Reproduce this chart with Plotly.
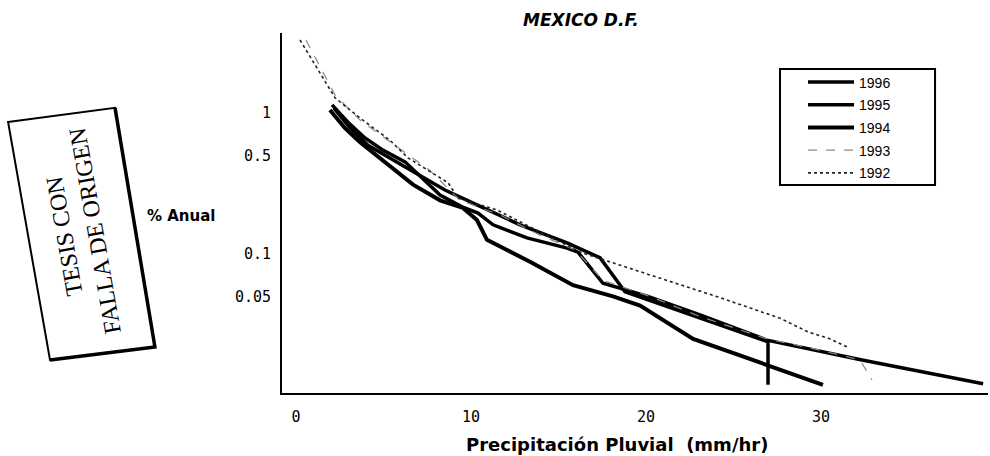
import plotly.graph_objects as go

# Rainfall intensity (mm/hr) vs. annual exceedance percentage, Mexico D.F.
years = ["1996", "1995", "1994", "1993", "1992"]

x_1996 = [2.06, 2.97, 3.94, 4.91, 6.23, 8.23, 9.49, 10.4, 11.26, 13.2, 15.49, 16.11, 17.54, 20.11, 23.09, 26.91, 32.34, 39.26]
y_1996 = [1.14, 0.86, 0.665, 0.55, 0.45, 0.262, 0.216, 0.195, 0.161, 0.130, 0.110, 0.103, 0.062, 0.050, 0.037, 0.0245, 0.0177, 0.0120]

x_1995 = [2.17, 3.09, 4.11, 5.37, 7.09, 8.51, 10.34, 12.8, 15.49, 17.37, 18.8, 23.09, 26.97, 26.97]
y_1995 = [1.08, 0.78, 0.59, 0.48, 0.36, 0.284, 0.223, 0.161, 0.120, 0.094, 0.054, 0.035, 0.0238, 0.0118]

x_1994 = [1.94, 2.8, 3.66, 4.8, 6.69, 8.23, 9.54, 10.34, 10.91, 13.37, 15.83, 18.11, 19.66, 22.69, 26.51, 30.11]
y_1994 = [1.05, 0.78, 0.62, 0.48, 0.31, 0.24, 0.212, 0.174, 0.126, 0.088, 0.060, 0.050, 0.043, 0.025, 0.0171, 0.0118]

x_1993 = [0.57, 1.49, 2.23, 3.66, 5.66, 7.66, 9.37, 11.66, 13.94, 15.94, 17.54, 20.23, 23.09, 26.91, 29.94, 32.23, 32.91]
y_1993 = [3.29, 2.02, 1.34, 0.89, 0.59, 0.39, 0.24, 0.189, 0.136, 0.107, 0.065, 0.050, 0.036, 0.025, 0.0208, 0.0177, 0.0128]

x_1992 = [0.23, 1.26, 2.23, 3.66, 5.37, 6.4, 8.69, 9.26, 11.49, 13.94, 16.34, 20.23, 24.23, 27.66, 29.26, 30.51, 31.49]
y_1992 = [3.29, 2.02, 1.28, 0.92, 0.64, 0.48, 0.32, 0.249, 0.205, 0.143, 0.102, 0.071, 0.049, 0.035, 0.028, 0.025, 0.0219]

x_ticks = [0, 10, 20, 30]
y_ticks = [0.05, 0.1, 0.5, 1]
y_tick_text = ["0.05", "0.1", "0.5", "1"]

series = {
    "1996": (x_1996, y_1996, dict(color="black", width=3.5)),
    "1995": (x_1995, y_1995, dict(color="black", width=3.5)),
    "1994": (x_1994, y_1994, dict(color="black", width=4)),
    "1993": (x_1993, y_1993, dict(color="#8a8a8a", width=1.2, dash="dash")),
    "1992": (x_1992, y_1992, dict(color="#222222", width=1.6, dash="dot")),
}

fig = go.Figure()
for yr in years:
    xs, ys, line = series[yr]
    fig.add_trace(go.Scatter(x=xs, y=ys, mode="lines", name=yr, line=line,
                             legendgroup=yr))

mono = "DejaVu Sans Mono"

fig.update_layout(
    width=990, height=456,
    margin=dict(l=282, r=2, t=33, b=63),
    paper_bgcolor="white", plot_bgcolor="white",
    showlegend=True,
    legend=dict(
        x=0.738, y=0.907, xanchor="left", yanchor="top",
        bgcolor="rgba(0,0,0,0)", borderwidth=0,
        font=dict(family="Liberation Sans", size=14, color="black"),
        traceorder="grouped", tracegroupgap=1.5, itemwidth=46,
    ),
    xaxis=dict(
        range=[-0.8, 39.54], tickvals=x_ticks, showgrid=False, zeroline=False,
        showline=True, linecolor="black", linewidth=2, ticks="",
        ticklabelstandoff=9,
        tickfont=dict(family=mono, size=15, color="black"),
    ),
    yaxis=dict(
        type="log", range=[-1.986, 0.567], tickvals=y_ticks, ticktext=y_tick_text,
        showgrid=False, zeroline=False, showline=True, linecolor="black",
        linewidth=2, ticks="", ticklabelstandoff=6,
        tickfont=dict(family=mono, size=15, color="black"),
    ),
)

# Legend frame
fig.add_shape(type="rect", xref="paper", yref="paper",
              x0=0.7054, x1=0.925, y0=0.578, y1=0.9,
              line=dict(color="black", width=2), layer="below")

# Titles
fig.add_annotation(text="<b><i>MEXICO D.F.</i></b>", xref="paper", yref="paper",
                   x=0.4235, y=1.036, showarrow=False, xanchor="center", yanchor="middle",
                   font=dict(family="DejaVu Sans", size=17, color="black"))
fig.add_annotation(text="<b>Precipitación Pluvial  (mm/hr)</b>", xref="paper", yref="paper",
                   x=0.4745, y=-0.144, showarrow=False, xanchor="center", yanchor="middle",
                   font=dict(family="DejaVu Sans", size=18, color="black"))
fig.add_annotation(text="<b>% Anual</b>", xref="paper", yref="paper",
                   x=-0.143, y=0.4917, showarrow=False, xanchor="center", yanchor="middle",
                   font=dict(family="DejaVu Sans", size=15, color="black"))

# Rubber stamp on the left margin
fig.add_shape(type="path", xref="paper", yref="paper",
              path="M -0.388 0.753 L -0.2365 0.792 L -0.180 0.128 L -0.3286 0.0917 Z",
              line=dict(color="black", width=2))
fig.add_shape(type="path", xref="paper", yref="paper",
              path="M -0.2365 0.792 L -0.180 0.128 L -0.3286 0.0917",
              line=dict(color="black", width=3.5))
fig.add_annotation(text="TESIS CON<br>FALLA DE ORIGEN", xref="paper", yref="paper",
                   x=-0.286, y=0.442, showarrow=False, textangle=-100,
                   xanchor="center", yanchor="middle",
                   font=dict(family="Liberation Serif", size=24, color="black"))

fig.write_html("out.html")
